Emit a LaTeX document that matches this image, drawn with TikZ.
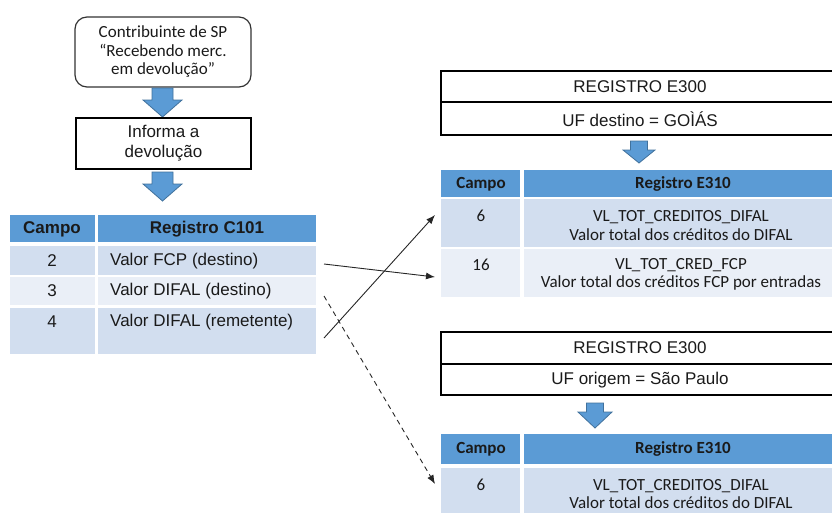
\documentclass[tikz,border=0pt]{standalone}
\usepackage{fontspec}
\setmainfont{Liberation Sans}
\newfontfamily\calfont{Carlito}
\usetikzlibrary{arrows.meta}
\definecolor{hdr}{HTML}{5B9BD5}
\definecolor{rowa}{HTML}{D2DEEF}
\definecolor{rowb}{HTML}{EAEFF7}
\definecolor{arrfill}{HTML}{5B9BD5}
\definecolor{arrline}{HTML}{41719C}
\definecolor{txt}{HTML}{1A1A1A}
\newcommand\cellbox[6]{\node[cell, fill=#6, minimum width={(#4-#2)*1pt}, minimum height={(#5-#3)*1pt}] (#1) at (#2,#3) {};}
\begin{document}
\begin{tikzpicture}[x=1pt,y=-1pt,
  every node/.style={text=txt, font=\fontsize{17}{18}\selectfont},
  cell/.style={inner sep=0pt, outer sep=0pt, draw=none, anchor=north west},
  lbl/.style={inner sep=0pt},
  cal/.style={inner sep=0pt, font=\calfont\fontsize{17}{18.5}\selectfont, align=center},
  calb/.style={inner sep=0pt, font=\calfont\bfseries\fontsize{17}{18}\selectfont},
  arb/.style={inner sep=0pt, font=\bfseries\fontsize{17}{18}\selectfont},
  regbox/.style={draw=black, line width=1.2pt, inner sep=0pt, outer sep=0pt, anchor=north west},
  blk/.style={fill=arrfill, draw=arrline, line width=0.8pt, line join=miter},
  conn/.style={-{Latex[length=9pt,width=7pt]}, line width=0.9pt, draw=black!85}
]
\useasboundingbox (0,0) rectangle (832,512);

% ---------- left flow ----------
\node[draw=black!80, line width=1.2pt, rounded corners=12pt, minimum width=176pt, minimum height=70pt,
      align=center, inner sep=0pt, font=\calfont\fontsize{17}{18.5}\selectfont] (src) at (163,52)
      {Contribuinte de SP\\“Recebendo merc.\\em devolução”};
\draw[blk] (152,88) -- (173,88) -- (173,100) -- (182,100) -- (162.5,117) -- (143,100) -- (152,100) -- cycle;
\node[draw=black, line width=1.3pt, minimum width=175pt, minimum height=51pt, align=center, inner sep=0pt,
      font=\fontsize{17}{20}\selectfont] (inf) at (163.5,143.5) {Informa a\\devolução};
\draw[blk] (152,172) -- (173,172) -- (173,184) -- (182,184) -- (162.5,201) -- (143,184) -- (152,184) -- cycle;

% ---------- C101 table ----------
\cellbox{ch1}{10}{215}{95}{242}{hdr}
\cellbox{ch2}{98}{215}{316}{242}{hdr}
\cellbox{c11}{10}{246}{95}{275}{rowa}
\cellbox{c12}{98}{246}{316}{275}{rowa}
\cellbox{c21}{10}{277}{95}{305}{rowb}
\cellbox{c22}{98}{277}{316}{305}{rowb}
\cellbox{c31}{10}{308}{95}{354}{rowa}
\cellbox{c32}{98}{308}{316}{354}{rowa}
\node[arb] (tch1) at (52,229) {Campo};
\node[arb] (tch2) at (207,229) {Registro C101};
\node[lbl] (t11) at (52,261) {2};
\node[lbl, anchor=west] (t12) at (110,261) {Valor FCP (destino)};
\node[lbl] (t21) at (52,291) {3};
\node[lbl, anchor=west] (t22) at (110,291) {Valor DIFAL (destino)};
\node[lbl] (t31) at (52,322) {4};
\node[lbl, anchor=west] (t32) at (110,322) {Valor DIFAL (remetente)};

% ---------- E300 / E310 (destino) ----------
\node[regbox, minimum width=398pt, minimum height=31pt] (ea1) at (441,71) {};
\node[regbox, minimum width=398pt, minimum height=33pt] (ea2) at (441,102) {};
\node[lbl] (tea1) at (640,87) {REGISTRO E300};
\node[lbl] (tea2) at (640,119) {UF destino = GOÌÁS};
\draw[blk] (630.5,141) -- (647.5,141) -- (647.5,150) -- (655,150) -- (639,163) -- (623,150) -- (630.5,150) -- cycle;
\cellbox{dh1}{441}{170}{520}{197}{hdr}
\cellbox{dh2}{524}{170}{840}{197}{hdr}
\cellbox{d11}{441}{199}{520}{247}{rowa}
\cellbox{d12}{524}{199}{840}{247}{rowa}
\cellbox{d21}{441}{249}{520}{297}{rowb}
\cellbox{d22}{524}{249}{840}{297}{rowb}
\node[calb] (tdh1) at (481,184) {Campo};
\node[calb] (tdh2) at (683,184) {Registro E310};
\node[cal] (td11) at (481,216) {6};
\node[cal] (td12) at (681,225.5) {VL\_TOT\_CREDITOS\_DIFAL\\Valor total dos créditos do DIFAL};
\node[cal] (td21) at (481,265) {16};
\node[cal] (td22) at (681,274.5) {VL\_TOT\_CRED\_FCP\\Valor total dos créditos FCP por entradas};

% ---------- E300 / E310 (origem) ----------
\node[regbox, minimum width=398pt, minimum height=32pt] (eb1) at (441,332) {};
\node[regbox, minimum width=398pt, minimum height=31pt] (eb2) at (441,364) {};
\node[lbl] (teb1) at (640,348) {REGISTRO E300};
\node[lbl] (teb2) at (640,380) {UF origem = São Paulo};
\draw[blk] (586.5,403) -- (603.5,403) -- (603.5,412) -- (612,412) -- (595,428) -- (578,412) -- (586.5,412) -- cycle;
\cellbox{oh1}{441}{434}{520}{464}{hdr}
\cellbox{oh2}{524}{434}{840}{464}{hdr}
\cellbox{o11}{441}{468}{520}{520}{rowa}
\cellbox{o12}{524}{468}{840}{520}{rowa}
\node[calb] (toh1) at (481,449) {Campo};
\node[calb] (toh2) at (683,449) {Registro E310};
\node[cal] (to11) at (481,485) {6};
\node[cal] (to12) at (681,494) {VL\_TOT\_CREDITOS\_DIFAL\\Valor total dos créditos do DIFAL};

% ---------- connectors ----------
\coordinate (sA) at (324,338);
\coordinate (tA) at (435,215);
\coordinate (sB) at (324,264);
\coordinate (tB) at (435,277);
\coordinate (sC) at (324,296);
\coordinate (tC) at (435,484);
\draw[conn] (sB) -- (tB);
\draw[conn] (sA) -- (tA);
\draw[conn, dash pattern=on 5pt off 4pt] (sC) -- (tC);
\end{tikzpicture}
\end{document}
